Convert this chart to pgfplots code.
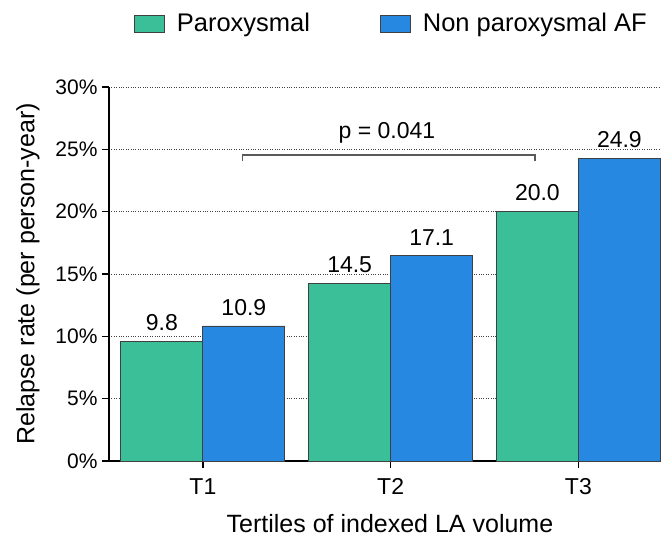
\documentclass[border=0pt]{standalone}
\usepackage{pgfplots}
\pgfplotsset{compat=1.18}
\usepackage{fontspec}
\setmainfont{Liberation Sans}
\definecolor{cgreen}{HTML}{3BBF98}
\definecolor{cblue}{HTML}{2688E0}
\begin{document}
\begin{tikzpicture}
\useasboundingbox (0,0) rectangle (661pt,536pt);
\begin{axis}[
  at={(109pt,75pt)}, anchor=south west,
  scale only axis, width=552pt, height=374pt,
  xmin=-0.5, xmax=2.44, ymin=0, ymax=30,
  ybar=0pt, bar width=82pt,
  axis x line*=bottom, axis y line*=left,
  axis line style={line width=2pt, black},
  xtick={0,1,2}, xticklabels={T1,T2,T3},
  ytick={0,5,...,30},
  yticklabel={\pgfmathprintnumber{\tick}\%},
  /pgf/number format/assume math mode=true,
  ymajorgrids, grid style={dotted, black!75, line width=0.9pt},
  tick style={line width=1.5pt, black},
  tick align=outside, major tick length=7pt,
  y tick label style={font=\fontsize{21}{25}\selectfont, xshift=-1pt},
  x tick label style={font=\fontsize{23}{27}\selectfont, yshift=-7pt},
  every axis y label/.style={at={(axis description cs:-0.147,0.5)}, rotate=90, anchor=center, font=\fontsize{25}{30}\selectfont},
  every axis x label/.style={at={(axis description cs:0.509,-0.166)}, anchor=center, font=\fontsize{25}{30}\selectfont},
  ylabel={Relapse rate (per person-year)},
  xlabel={Tertiles of indexed LA volume},
  nodes near coords, point meta=explicit symbolic,
  every node near coord/.append style={font=\fontsize{23}{27}\selectfont, black, yshift=7pt},
  legend columns=2,
  legend style={at={(axis description cs:0.045,1.17)}, anchor=west, draw=none, fill=none,
    font=\fontsize{25.5}{30}\selectfont, inner sep=0pt,
    /tikz/every odd column/.append style={column sep=10pt},
    /tikz/every even column/.append style={column sep=68pt}},
  clip=false,
]
\addplot[fill=cgreen, draw=black!75, line width=0.8pt,
  legend image code/.code={\draw[fill=cgreen, draw=black!75, line width=0.8pt] (0pt,-8.5pt) rectangle (30pt,8.5pt);}]
  coordinates {(0,9.62) [9.8] (1,14.25) [14.5] (2,20.0) [20.0]};
\addlegendentry{Paroxysmal}
\addplot[fill=cblue, draw=black!75, line width=0.8pt,
  legend image code/.code={\draw[fill=cblue, draw=black!75, line width=0.8pt] (0pt,-8.5pt) rectangle (30pt,8.5pt);}]
  coordinates {(0,10.83) [10.9] (1,16.46) [17.1] (2,24.3) [24.9]};
\addlegendentry{Non paroxysmal AF}
\draw[black!65, line width=1.5pt] (axis cs:0.21,24.05) -- (axis cs:0.21,24.55) -- (axis cs:1.77,24.55) -- (axis cs:1.77,24.05);
\node[font=\fontsize{23}{27}\selectfont, anchor=center] at (axis cs:0.98,26.3) {p = 0.041};
\end{axis}
\end{tikzpicture}
\end{document}
